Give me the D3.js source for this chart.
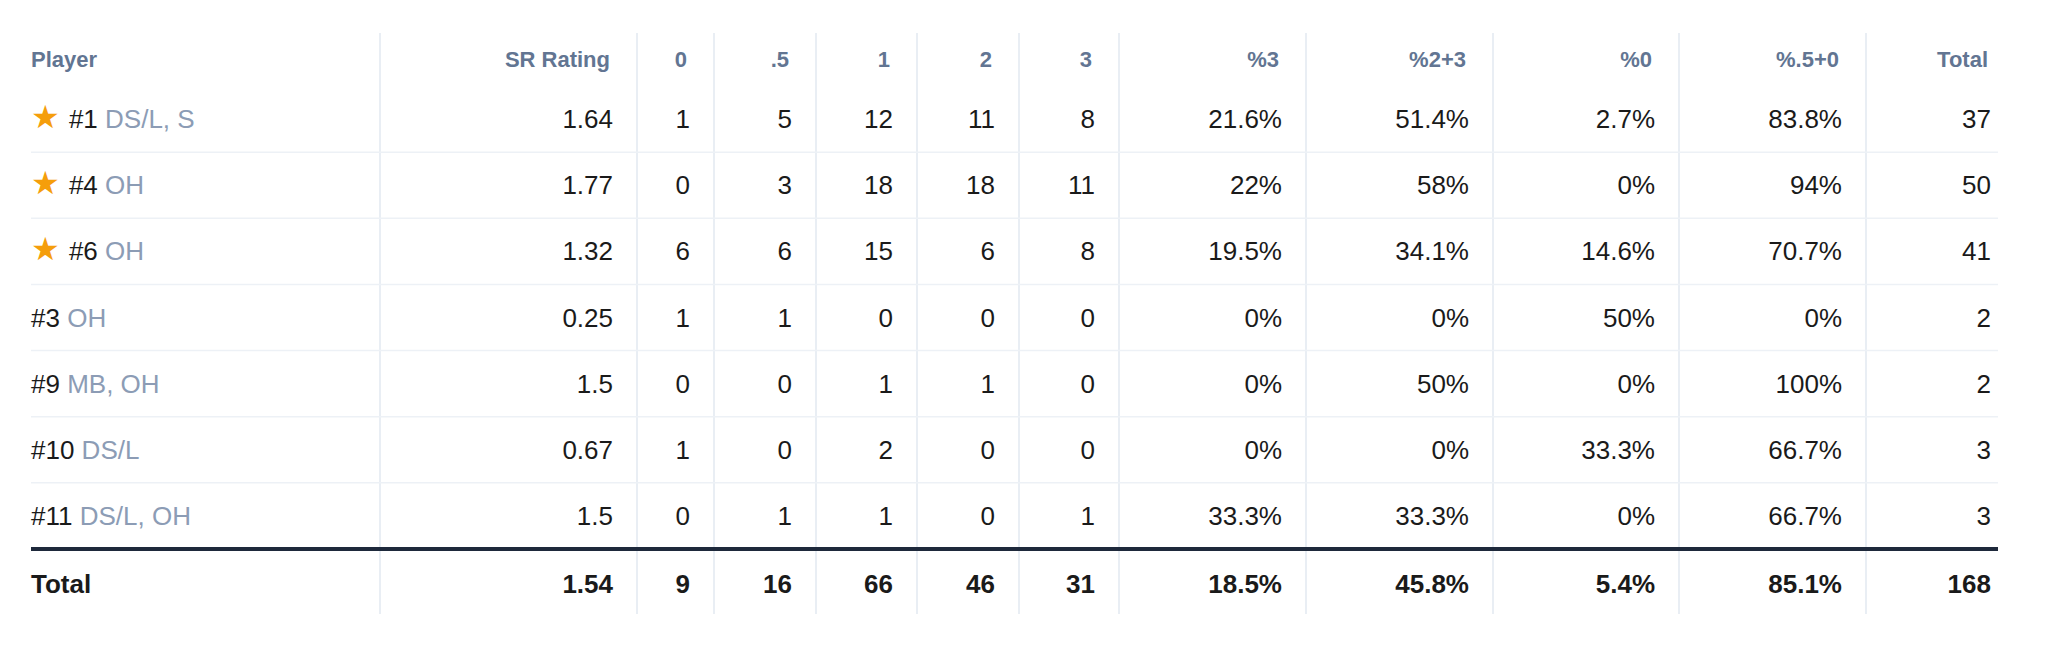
<!DOCTYPE html>
<html><head><meta charset="utf-8">
<script src="https://cdn.jsdelivr.net/npm/d3@7"></script>
<style>body{margin:0;background:#fff;font-family:"Liberation Sans",Arial,sans-serif;}</style>
</head><body><svg id="chart" width="2048" height="648"></svg>
<script>
// table data
const headers   = ["Player","SR Rating","0",".5","1","2","3","%3","%2+3","%0","%.5+0","Total"];
const numbers   = ["#1","#4","#6","#3","#9","#10","#11"];
const positions = ["DS/L, S","OH","OH","OH","MB, OH","DS/L","DS/L, OH"];
const starred   = [true,true,true,false,false,false,false];
const srRating  = ["1.64","1.77","1.32","0.25","1.5","0.67","1.5"];
const c0  = [1,0,6,1,0,1,0];
const c05 = [5,3,6,1,0,0,1];
const c1  = [12,18,15,0,1,2,1];
const c2  = [11,18,6,0,1,0,0];
const c3  = [8,11,8,0,0,0,1];
const p3   = ["21.6%","22%","19.5%","0%","0%","0%","33.3%"];
const p23  = ["51.4%","58%","34.1%","0%","50%","0%","33.3%"];
const p0   = ["2.7%","0%","14.6%","50%","0%","33.3%","0%"];
const p050 = ["83.8%","94%","70.7%","0%","100%","66.7%","66.7%"];
const totals = [37,50,41,2,2,3,3];
const footer = ["Total","1.54","9","16","66","46","31","18.5%","45.8%","5.4%","85.1%","168"];

// column edges
const edges = [31,380,637,714,816,917,1019,1119,1306,1493,1679,1866,1998];
const rowY = d3.scaleBand().domain(d3.range(7)).range([86,549]);
const svg = d3.select("#chart");
const padFor = i => i === headers.length-1 ? 7 : 24;

// vertical dividers
svg.selectAll("line.v").data(edges.slice(1,-1)).join("line")
  .attr("x1",d=>d).attr("x2",d=>d).attr("y1",33).attr("y2",614)
  .attr("stroke","#e2e8f0").attr("stroke-width",1.5);

// row separators
svg.selectAll("line.h").data(d3.range(1,7)).join("line")
  .attr("x1",31).attr("x2",1998)
  .attr("y1",d=>rowY(d)).attr("y2",d=>rowY(d))
  .attr("stroke","#edf1f6").attr("stroke-width",1.5);

svg.append("line").attr("x1",31).attr("x2",1998).attr("y1",549).attr("y2",549)
  .attr("stroke","#1e293b").attr("stroke-width",4);

// headers
headers.forEach((h,i)=>{
  svg.append("text").attr("x", i===0 ? edges[0] : edges[i+1]-padFor(i)-3).attr("y",67)
    .attr("text-anchor", i===0 ? "start" : "end")
    .attr("font-size",22).attr("font-weight","bold").attr("fill","#627592").text(h);
});

// body rows
const cols = [srRating,c0,c05,c1,c2,c3,p3,p23,p0,p050,totals];
d3.range(7).forEach(r=>{
  const y = rowY(r)+rowY.bandwidth()/2+9;
  const t = svg.append("text").attr("x",edges[0]).attr("y",y).attr("font-size",26).attr("fill","#1a1a1a");
  if (starred[r]) t.append("tspan").attr("fill","#f59e0b").attr("font-size",32).text("★ ");
  t.append("tspan").text(numbers[r]+" ");
  t.append("tspan").attr("fill","#8c9cb5").text(positions[r]);
  cols.forEach((c,i)=>{
    svg.append("text").attr("x",edges[i+2]-padFor(i+1)).attr("y",y).attr("text-anchor","end")
      .attr("font-size",26).attr("fill","#1a1a1a").text(c[r]);
  });
});

// footer
footer.forEach((f,i)=>{
  svg.append("text").attr("x", i===0 ? edges[0] : edges[i+1]-padFor(i)).attr("y",593)
    .attr("text-anchor", i===0 ? "start" : "end")
    .attr("font-size",26).attr("font-weight","bold").attr("fill","#1a1a1a").text(f);
});
</script></body></html>
